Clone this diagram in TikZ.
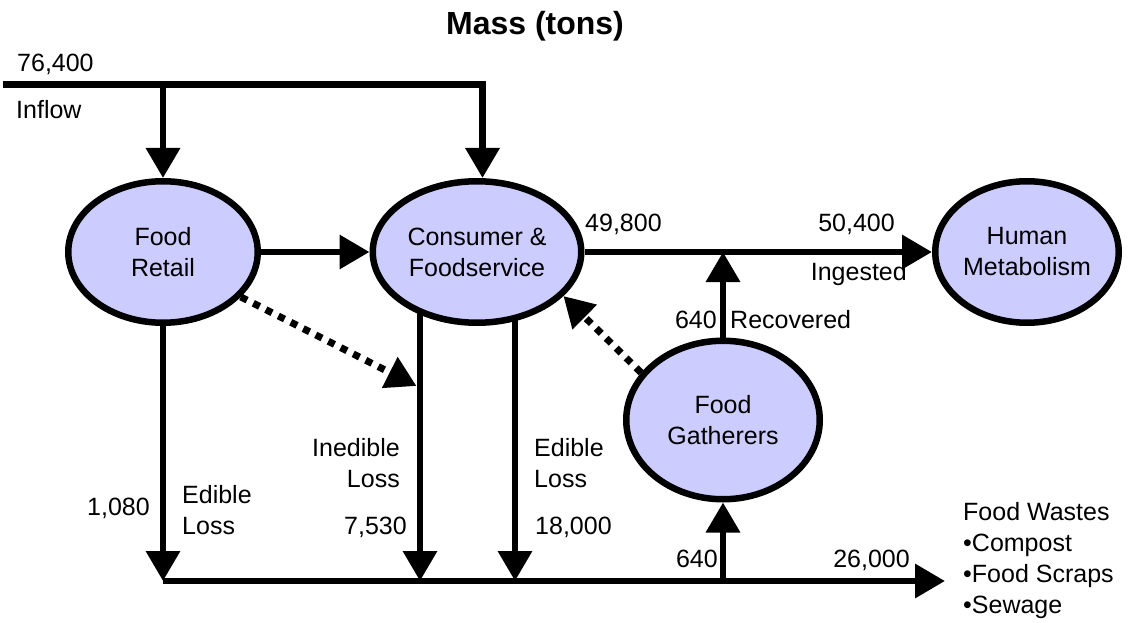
\documentclass[tikz,border=0pt]{standalone}
\usepackage{fontspec}
\setmainfont{Liberation Sans}
\usetikzlibrary{arrows.meta,shapes.geometric,backgrounds}
\definecolor{stockfill}{RGB}{204,204,255}
\tikzset{
  stock/.style={ellipse, draw=black, line width=6.5pt, fill=stockfill, align=center, inner sep=0pt},
  flow/.style={line width=6.5pt, line join=miter, -{Triangle[length=30pt,width=33pt]}},
  reuse/.style={line width=7pt, dash pattern=on 7pt off 7pt, -{Triangle[length=30pt,width=33pt]}},
  lbl/.style={inner sep=0pt},
}
\begin{document}
\begin{tikzpicture}[x=1pt, y=-1pt, font=\fontsize{25}{31}\selectfont]
\useasboundingbox (0,0) rectangle (1128,623);

% stocks
\node[stock, minimum width=189.5pt, minimum height=141.5pt] (retail) at (163,252) {Food\\Retail};
\node[stock, minimum width=208.5pt, minimum height=141.5pt] (cons) at (477,252) {Consumer \&\\Foodservice};
\node[stock, minimum width=183.5pt, minimum height=141.5pt] (human) at (1027,252) {Human\\Metabolism};
\node[stock, minimum width=193.5pt, minimum height=158.5pt] (gath) at (723,420) {Food\\Gatherers};

% junction and end points
\coordinate (in0) at (3,84.5);
\coordinate (in2) at (482.5,84.5);
\coordinate (b1) at (163,581);
\coordinate (b2) at (420,581);
\coordinate (b3) at (515,581);
\coordinate (b4) at (723,581);
\coordinate (bend) at (945,581);
\coordinate (tipA) at (416.5,386);
\coordinate (j1) at (gath.north |- cons.east);

% inflow
\draw[flow] (in0) -- (in2) -- (cons.north -| in2);
\draw[flow] (retail.north |- in0) -- (retail.north);

% main flows
\draw[flow] (retail.east) -- (cons.west);
\draw[flow] (cons.east) -- (human.west);
\draw[flow] (gath.north) -- (j1);

% losses to the waste stream
\begin{pgfonlayer}{background}
\draw[flow] (cons.center -| b2) -- (b2);
\draw[flow] (cons.center -| b3) -- (b3);
\end{pgfonlayer}
\draw[flow] (retail.south) -- (b1);
\draw[flow] (b1) -- (bend);
\draw[flow] (b4) -- (gath.south);

% dotted transfers
\draw[reuse] (retail.-30) -- (tipA);
\draw[reuse] (gath.150) -- (cons.-27);

% title and labels
\node[lbl, font=\fontsize{32}{38}\selectfont\bfseries, anchor=base] (title) at (535,35) {Mass (tons)};
\node[lbl, anchor=base west] (vin) at (17,72) {76,400};
\node[lbl, anchor=base west] (tin) at (16,119) {Inflow};
\node[lbl, anchor=base west] (v498) at (585,231) {49,800};
\node[lbl, anchor=base east] (v504) at (895,231) {50,400};
\node[lbl, anchor=base east] (ting) at (907,280) {Ingested};
\node[lbl, anchor=base east] (v640a) at (717,328) {640};
\node[lbl, anchor=base west] (trec) at (730,328) {Recovered};
\node[lbl, anchor=base east] (v1080) at (150,515) {1,080};
\node[lbl, anchor=base west, align=left] (tel1) at (182,534) {Edible\\Loss};
\node[lbl, anchor=base east, align=right] (tin1) at (400,487) {Inedible\\Loss};
\node[lbl, anchor=base east] (v7530) at (407,534) {7,530};
\node[lbl, anchor=base west, align=left] (tel2) at (534,487) {Edible\\Loss};
\node[lbl, anchor=base west] (v18000) at (535,534) {18,000};
\node[lbl, anchor=base east] (v640b) at (718,567) {640};
\node[lbl, anchor=base east] (v26000) at (910,567) {26,000};
\node[lbl, anchor=base west, align=left] (twaste) at (963,613) {Food Wastes\\•Compost\\•Food Scraps\\•Sewage};
\end{tikzpicture}
\end{document}
